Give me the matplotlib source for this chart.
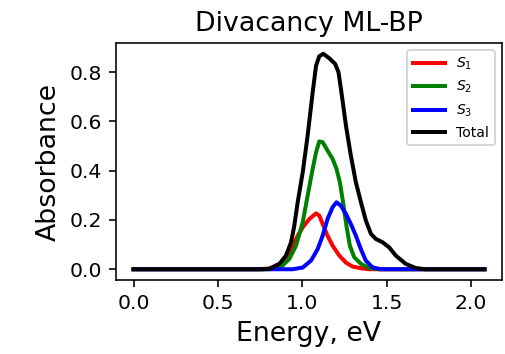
import matplotlib
matplotlib.use("Agg")
import matplotlib.pyplot as plt

# values
s1_e = [0.0, 0.74, 0.806, 0.884, 0.934, 0.973, 1.003, 1.042, 1.082, 1.101, 1.125, 1.150, 1.180, 1.219, 1.259, 1.298, 1.357, 1.40, 2.08]
s1_a = [0.0, 0.0, 0.003, 0.027, 0.081, 0.136, 0.170, 0.204, 0.227, 0.218, 0.177, 0.136, 0.096, 0.056, 0.027, 0.011, 0.003, 0.0, 0.0]

s2_e = [0.0, 0.80, 0.865, 0.924, 0.963, 1.003, 1.032, 1.062, 1.082, 1.101, 1.121, 1.150, 1.180, 1.203, 1.223, 1.242, 1.262, 1.282, 1.308, 1.348, 1.397, 1.456, 2.08]
s2_a = [0.0, 0.0, 0.003, 0.042, 0.096, 0.191, 0.299, 0.408, 0.475, 0.519, 0.516, 0.482, 0.448, 0.408, 0.353, 0.272, 0.177, 0.096, 0.049, 0.022, 0.005, 0.0, 0.0]

s3_e = [0.0, 0.943, 1.003, 1.052, 1.091, 1.121, 1.150, 1.180, 1.203, 1.229, 1.259, 1.288, 1.318, 1.348, 1.377, 1.416, 1.465, 2.08]
s3_a = [0.0, 0.0, 0.007, 0.035, 0.081, 0.136, 0.204, 0.252, 0.272, 0.258, 0.225, 0.184, 0.136, 0.081, 0.035, 0.008, 0.0, 0.0]

tot_e = [0.0, 0.76, 0.806, 0.865, 0.904, 0.934, 0.953, 0.973, 1.003, 1.032, 1.062, 1.082, 1.101, 1.125, 1.160, 1.195,
         1.215, 1.235, 1.259, 1.288, 1.318, 1.348, 1.377, 1.407, 1.436, 1.475, 1.515, 1.554, 1.613, 1.672, 1.73, 2.08]
tot_a = [0.0, 0.0, 0.002, 0.022, 0.056, 0.110, 0.177, 0.272, 0.394, 0.543, 0.719, 0.827, 0.865, 0.875, 0.857, 0.834,
         0.800, 0.705, 0.584, 0.462, 0.353, 0.272, 0.198, 0.144, 0.123, 0.110, 0.089, 0.056, 0.022, 0.005, 0.0, 0.0]

dpi = 144
fig = plt.figure(figsize=(505 / dpi, 354 / dpi), dpi=dpi)
ax = fig.add_axes([0.2297, 0.209, 0.7643, 0.6695])

lw = 2
ax.plot(s1_e, s1_a, color="red", lw=lw, label="$S_1$")
ax.plot(s2_e, s2_a, color="green", lw=lw, label="$S_2$")
ax.plot(s3_e, s3_a, color="blue", lw=lw, label="$S_3$")
ax.plot(tot_e, tot_a, color="black", lw=lw, label="Total")

ax.set_xticks([0.0, 0.5, 1.0, 1.5, 2.0])
ax.set_yticks([0.0, 0.2, 0.4, 0.6, 0.8])
ax.tick_params(labelsize=10.2)
ax.set_xlabel("Energy, eV", fontsize=13.4)
ax.set_ylabel("Absorbance", fontsize=13.4)
ax.set_title("Divacancy ML-BP", fontsize=13.4)
ax.legend(loc="upper right", fontsize=7, handlelength=2.3)

fig.savefig("out.png", dpi=dpi)
